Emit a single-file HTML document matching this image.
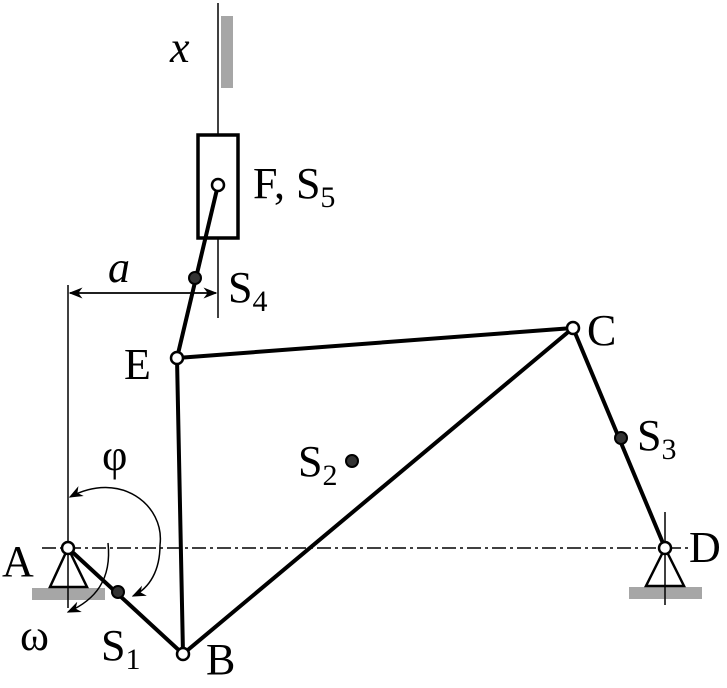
<!DOCTYPE html>
<html><head><style>body{margin:0;background:#fff}svg{display:block}svg text{font-family:"Liberation Serif",serif;font-size:44px}svg tspan.s{font-size:30px}</style></head><body>
<svg width="727" height="688" viewBox="0 0 727 688" xmlns="http://www.w3.org/2000/svg">
<defs><marker id="ar2" viewBox="0 0 10 10" refX="9" refY="5" markerWidth="14" markerHeight="14" markerUnits="userSpaceOnUse" orient="auto"><path d="M0,1 L10,5 L0,9 L3,5z" fill="#000"/></marker></defs>
<rect x="221" y="16" width="12" height="72" fill="#a6a6a6"/>
<rect x="32" y="588" width="73" height="12" fill="#a6a6a6"/>
<rect x="629" y="587" width="73" height="12" fill="#a6a6a6"/>
<g stroke="#000" stroke-width="1.5" fill="none">
<line x1="218" y1="3" x2="218" y2="135"/>
<line x1="218" y1="238" x2="218" y2="318"/>
<line x1="68" y1="285" x2="68" y2="608"/>
<line x1="665" y1="512" x2="665" y2="605"/>
<line x1="42" y1="548" x2="688" y2="548" stroke-dasharray="14,4,3,4"/>
<line x1="70" y1="293" x2="216" y2="293" marker-end="url(#ar2)"/>
<line x1="216" y1="293" x2="70" y2="293" marker-end="url(#ar2)"/>
<path d="M160 545 C165 505 120 470 70 497" marker-end="url(#ar2)"/>
<path d="M160 545 C160 570 150 588 133 596" marker-end="url(#ar2)"/>
<path d="M108 543 C112 580 95 600 68 612" marker-end="url(#ar2)"/>
<path d="M68 548 L50 587 L87 587 Z" stroke-width="2.5"/>
<path d="M665 548 L646 586 L684 586 Z" stroke-width="2.5"/>
</g>
<g stroke="#000" stroke-width="4" fill="none" stroke-linecap="round">
<rect x="198" y="135" width="40" height="103" stroke-width="3.5"/>
<line x1="218" y1="185" x2="177" y2="358"/>
<line x1="177" y1="358" x2="573" y2="328"/>
<line x1="177" y1="358" x2="183" y2="654"/>
<line x1="183" y1="654" x2="573" y2="328"/>
<line x1="573" y1="328" x2="665" y2="548"/>
<line x1="68" y1="548" x2="183" y2="654"/>
</g>
<g stroke="#000" stroke-width="2" fill="#333">
<circle cx="195" cy="278" r="6"/><circle cx="352" cy="461" r="6"/><circle cx="621" cy="438" r="6"/><circle cx="118" cy="592" r="6"/>
</g>
<g stroke="#000" stroke-width="2.5" fill="#fff">
<circle cx="218" cy="185" r="6"/><circle cx="177" cy="358" r="6"/><circle cx="573" cy="328" r="6"/><circle cx="183" cy="654" r="6"/><circle cx="68" cy="548" r="6"/><circle cx="665" cy="548" r="6"/>
</g>
<g fill="#000">
<text x="170" y="62" style="font-style:italic">x</text>
<text x="253" y="198">F, S<tspan class="s" dy="9">5</tspan></text>
<text x="108" y="282" style="font-style:italic">a</text>
<text x="228" y="302">S<tspan class="s" dy="9">4</tspan></text>
<text x="124" y="379">E</text>
<text x="587" y="345">C</text>
<text x="298" y="476">S<tspan class="s" dy="9">2</tspan></text>
<text x="637" y="450">S<tspan class="s" dy="9">3</tspan></text>
<text x="102" y="470">φ</text>
<text x="2" y="576">A</text>
<text x="689" y="562">D</text>
<text x="20" y="650">ω</text>
<text x="101" y="660">S<tspan class="s" dy="9">1</tspan></text>
<text x="206" y="674">B</text>
</g>
</svg>
</body></html>
